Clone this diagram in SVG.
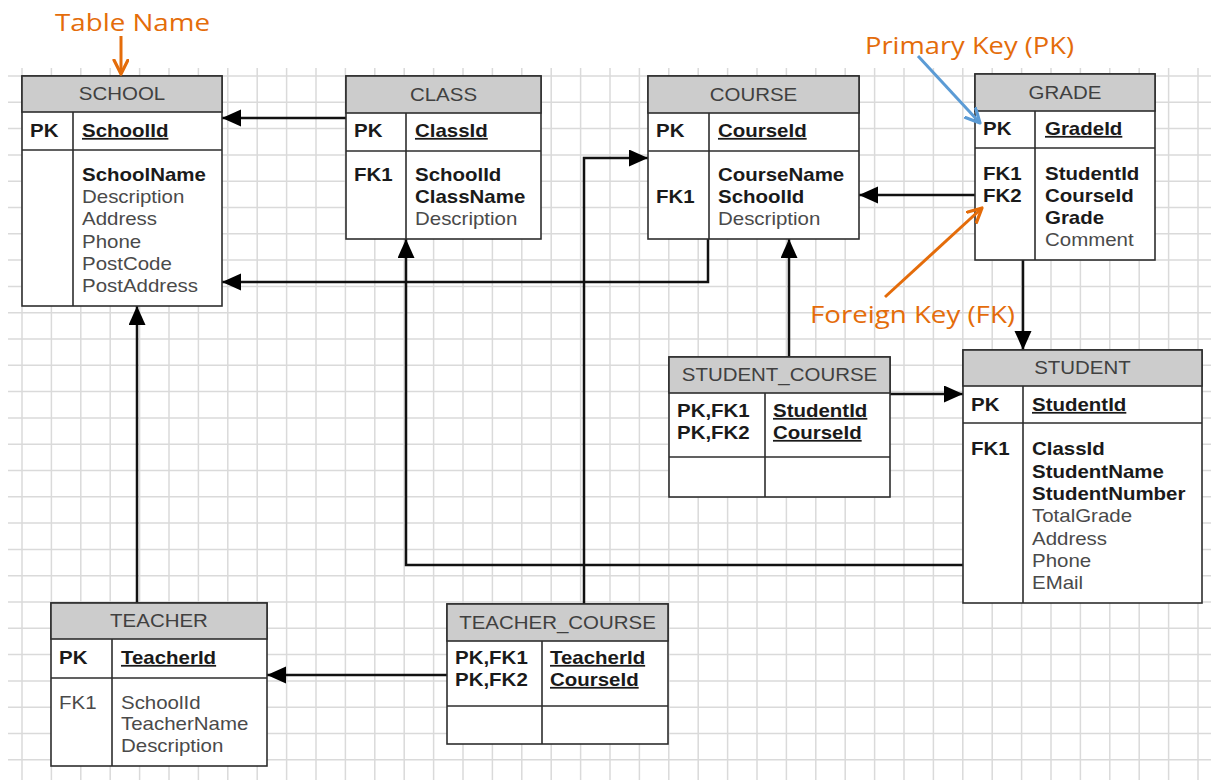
<svg xmlns="http://www.w3.org/2000/svg" width="1211" height="780" viewBox="0 0 1211 780">
<style>
.grid{fill:none;stroke:#dadada;stroke-width:1.5}
.box{fill:#fff;stroke:#2e2e2e;stroke-width:1.6}
.hd{fill:#cccccc;stroke:#2e2e2e;stroke-width:1.6}
.ln{stroke:#2e2e2e;stroke-width:1.6;fill:none}
.t{font-family:"Liberation Sans",Arial,sans-serif;font-size:17.5px;transform-box:fill-box;transform-origin:0 50%;transform:scaleX(1.17)}
.h{fill:#404040;text-anchor:middle;transform-origin:50% 50%}
.b{font-weight:bold;fill:#1a1a1a}
.r{fill:#4a4a4a}
.u{text-decoration:underline}
.ann{font-family:"Open Sans",Lato,sans-serif;font-size:24px;fill:#E46C0A}
.conn{fill:none;stroke:#111;stroke-width:2.5}
</style>
<defs>
<marker id="ah" markerUnits="userSpaceOnUse" markerWidth="20" markerHeight="18" refX="19" refY="8.5" orient="auto"><path d="M0,0 L19,8.5 L0,17 z" fill="#000"/></marker>
<marker id="oa" markerUnits="userSpaceOnUse" markerWidth="20" markerHeight="20" refX="15" refY="8" orient="auto"><path d="M1,1 L15,8 L1,15" fill="none" stroke="#E46C0A" stroke-width="3.2" stroke-linecap="round" stroke-linejoin="round"/></marker>
<marker id="ba" markerUnits="userSpaceOnUse" markerWidth="20" markerHeight="20" refX="15" refY="8" orient="auto"><path d="M1,1 L15,8 L1,15" fill="none" stroke="#5B9BD5" stroke-width="3.2" stroke-linecap="round" stroke-linejoin="round"/></marker>
</defs>
<rect x="0" y="0" width="1211" height="780" fill="#fff"/>
<path class="grid" d="M22,68V780M51.4,68V780M80.8,68V780M110.2,68V780M139.6,68V780M169,68V780M198.4,68V780M227.8,68V780M257.2,68V780M286.6,68V780M316,68V780M345.4,68V780M374.8,68V780M404.2,68V780M433.6,68V780M463,68V780M492.4,68V780M521.8,68V780M551.2,68V780M580.6,68V780M610,68V780M639.4,68V780M668.8,68V780M698.2,68V780M727.6,68V780M757,68V780M786.4,68V780M815.8,68V780M845.2,68V780M874.6,68V780M904,68V780M933.4,68V780M962.8,68V780M992.2,68V780M1021.6,68V780M1051,68V780M1080.4,68V780M1109.8,68V780M1139.2,68V780M1168.6,68V780M1198,68V780
M8,76H1211M8,102.3H1211M8,128.6H1211M8,154.9H1211M8,181.2H1211M8,207.5H1211M8,233.8H1211M8,260.1H1211M8,286.4H1211M8,312.7H1211M8,339H1211M8,365.3H1211M8,391.6H1211M8,417.9H1211M8,444.2H1211M8,470.5H1211M8,496.8H1211M8,523.1H1211M8,549.4H1211M8,575.7H1211M8,602H1211M8,628.3H1211M8,654.6H1211M8,680.9H1211M8,707.2H1211M8,733.5H1211M8,759.8H1211"/>

<g id="connectors" class="conn" marker-end="url(#ah)">
<path d="M346,118H222"/>
<path d="M708,239V282H222"/>
<path d="M975,195H859"/>
<path d="M1023,260V350"/>
<path d="M789,357V239"/>
<path d="M890,394H963"/>
<path d="M963,565H406V239"/>
<path d="M584,604V158H648"/>
<path d="M447,675H267"/>
<path d="M137,603V306"/>
</g>

<g id="school">
<rect class="box" x="22" y="76" width="200" height="230"/>
<rect class="hd" x="22" y="76" width="200" height="36"/>
<path class="ln" d="M22,150H222M73,112V306"/>
<text class="t h" x="122" y="100">SCHOOL</text>
<text class="t b" x="30" y="137">PK</text>
<text class="t b u" x="82" y="137">SchoolId</text>
<text class="t b" x="82" y="181">SchoolName</text>
<text class="t r" x="82" y="203">Description</text>
<text class="t r" x="82" y="225">Address</text>
<text class="t r" x="82" y="248">Phone</text>
<text class="t r" x="82" y="270">PostCode</text>
<text class="t r" x="82" y="292">PostAddress</text>
</g>

<g id="class">
<rect class="box" x="346" y="76" width="195" height="163"/>
<rect class="hd" x="346" y="76" width="195" height="37"/>
<path class="ln" d="M346,151H541M406,113V239"/>
<text class="t h" x="443.5" y="101">CLASS</text>
<text class="t b" x="354" y="137">PK</text>
<text class="t b u" x="415" y="137">ClassId</text>
<text class="t b" x="354" y="181">FK1</text>
<text class="t b" x="415" y="181">SchoolId</text>
<text class="t b" x="415" y="203">ClassName</text>
<text class="t r" x="415" y="225">Description</text>
</g>

<g id="course">
<rect class="box" x="648" y="76" width="211" height="163"/>
<rect class="hd" x="648" y="76" width="211" height="37"/>
<path class="ln" d="M648,151H859M709,113V239"/>
<text class="t h" x="753.5" y="101">COURSE</text>
<text class="t b" x="656" y="137">PK</text>
<text class="t b u" x="718" y="137">CourseId</text>
<text class="t b" x="656" y="203">FK1</text>
<text class="t b" x="718" y="181">CourseName</text>
<text class="t b" x="718" y="203">SchoolId</text>
<text class="t r" x="718" y="225">Description</text>
</g>

<g id="grade">
<rect class="box" x="975" y="74" width="180" height="186"/>
<rect class="hd" x="975" y="74" width="180" height="37"/>
<path class="ln" d="M975,148H1155M1035,111V260"/>
<text class="t h" x="1065" y="99">GRADE</text>
<text class="t b" x="983" y="135">PK</text>
<text class="t b u" x="1045" y="135">GradeId</text>
<text class="t b" x="983" y="180">FK1</text>
<text class="t b" x="983" y="202">FK2</text>
<text class="t b" x="1045" y="180">StudentId</text>
<text class="t b" x="1045" y="202">CourseId</text>
<text class="t b" x="1045" y="224">Grade</text>
<text class="t r" x="1045" y="246">Comment</text>
</g>

<g id="student_course">
<rect class="box" x="669" y="357" width="221" height="140"/>
<rect class="hd" x="669" y="357" width="221" height="36"/>
<path class="ln" d="M669,457H890M765,393V497"/>
<text class="t h" x="779.5" y="381">STUDENT_COURSE</text>
<text class="t b" x="677" y="417">PK,FK1</text>
<text class="t b" x="677" y="439">PK,FK2</text>
<text class="t b u" x="773" y="417">StudentId</text>
<text class="t b u" x="773" y="439">CourseId</text>
</g>

<g id="student">
<rect class="box" x="963" y="350" width="239" height="253"/>
<rect class="hd" x="963" y="350" width="239" height="36"/>
<path class="ln" d="M963,423H1202M1023,386V603"/>
<text class="t h" x="1082.5" y="374">STUDENT</text>
<text class="t b" x="971" y="411">PK</text>
<text class="t b u" x="1032" y="411">StudentId</text>
<text class="t b" x="971" y="455">FK1</text>
<text class="t b" x="1032" y="455">ClassId</text>
<text class="t b" x="1032" y="478">StudentName</text>
<text class="t b" x="1032" y="500">StudentNumber</text>
<text class="t r" x="1032" y="522">TotalGrade</text>
<text class="t r" x="1032" y="545">Address</text>
<text class="t r" x="1032" y="567">Phone</text>
<text class="t r" x="1032" y="589">EMail</text>
</g>

<g id="teacher">
<rect class="box" x="51" y="603" width="216" height="163"/>
<rect class="hd" x="51" y="603" width="216" height="36"/>
<path class="ln" d="M51,678H267M112,639V766"/>
<text class="t h" x="159" y="627">TEACHER</text>
<text class="t b" x="59" y="664">PK</text>
<text class="t b u" x="121" y="664">TeacherId</text>
<text class="t r" x="59" y="709">FK1</text>
<text class="t r" x="121" y="709">SchoolId</text>
<text class="t r" x="121" y="730">TeacherName</text>
<text class="t r" x="121" y="752">Description</text>
</g>

<g id="teacher_course">
<rect class="box" x="447" y="604" width="221" height="140"/>
<rect class="hd" x="447" y="604" width="221" height="37"/>
<path class="ln" d="M447,706H668M542,641V744"/>
<text class="t h" x="557.5" y="629">TEACHER_COURSE</text>
<text class="t b" x="455" y="664">PK,FK1</text>
<text class="t b" x="455" y="686">PK,FK2</text>
<text class="t b u" x="550" y="664">TeacherId</text>
<text class="t b u" x="550" y="686">CourseId</text>
</g>

<g id="annotations">
<text class="ann" x="55" y="31" textLength="155" lengthAdjust="spacingAndGlyphs">Table Name</text>
<path d="M121,36V74" fill="none" stroke="#E46C0A" stroke-width="3" marker-end="url(#oa)"/>
<text class="ann" x="865" y="54" textLength="209" lengthAdjust="spacingAndGlyphs">Primary Key (PK)</text>
<path d="M918,56L980,123" fill="none" stroke="#5B9BD5" stroke-width="3" marker-end="url(#ba)"/>
<text class="ann" x="810" y="323" textLength="205" lengthAdjust="spacingAndGlyphs">Foreign Key (FK)</text>
<path d="M885,297L982,208" fill="none" stroke="#E46C0A" stroke-width="3" marker-end="url(#oa)"/>
</g>
</svg>
